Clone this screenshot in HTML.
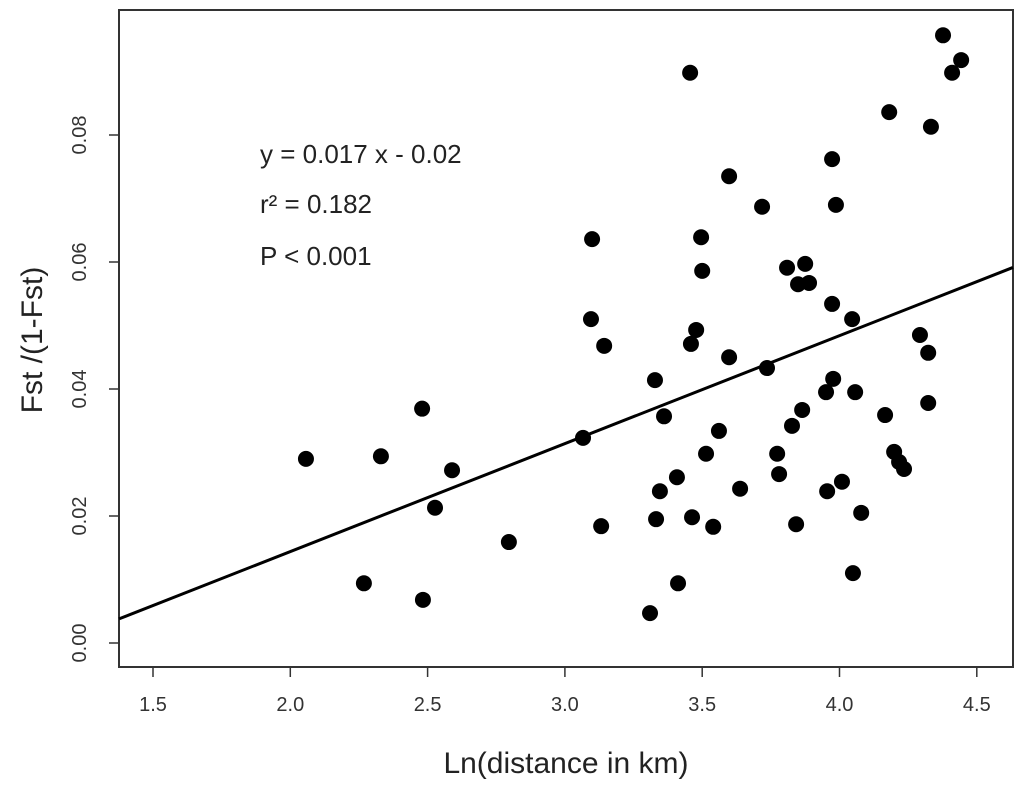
<!DOCTYPE html>
<html><head><meta charset="utf-8"><style>
html,body{margin:0;padding:0;background:#fff;}
svg{display:block;font-family:"Liberation Sans",Arial,sans-serif;}
</style></head><body>
<svg id="chart" width="1024" height="789">
<rect x="119" y="10" width="894" height="657" fill="none" stroke="#333" stroke-width="2"/>
<g id="xaxis"></g>
<g id="yaxis"></g>
<text x="566" y="773" font-size="30" text-anchor="middle" fill="#222">Ln(distance in km)</text>
<text transform="translate(42,340) rotate(-90)" font-size="30" text-anchor="middle" fill="#222">Fst /(1-Fst)</text>
<text x="260" y="163" font-size="26" fill="#222">y = 0.017 x - 0.02</text>
<text x="260" y="213" font-size="26" fill="#222">r² = 0.182</text>
<text x="260" y="265" font-size="26" fill="#222">P &lt; 0.001</text>
<g id="marks"></g>
</svg>
<script>
const xTicks = [1.5, 2.0, 2.5, 3.0, 3.5, 4.0, 4.5];
const yTicks = [0.00, 0.02, 0.04, 0.06, 0.08];
const xVals = [4.377,4.443,4.410,3.456,4.181,4.333,3.973,3.598,3.718,3.987,3.099,3.496,3.500,3.809,3.875,3.849,3.889,3.973,4.046,3.095,3.478,4.293,3.143,3.459,4.323,3.598,3.736,3.328,3.977,3.951,4.057,4.323,3.066,3.361,3.864,4.166,3.827,3.561,3.514,3.773,4.199,4.217,4.235,3.408,3.780,4.009,3.955,3.346,3.638,4.079,3.332,3.463,3.540,3.842,3.132,4.049,3.412,3.310,2.057,2.268,2.330,2.480,2.483,2.527,2.589,2.796];
const yVals = [0.0957,0.0918,0.0898,0.0898,0.0836,0.0813,0.0762,0.0735,0.0687,0.0690,0.0636,0.0639,0.0586,0.0591,0.0597,0.0565,0.0567,0.0534,0.0510,0.0510,0.0493,0.0485,0.0468,0.0471,0.0457,0.0450,0.0433,0.0414,0.0416,0.0395,0.0395,0.0378,0.0323,0.0357,0.0367,0.0359,0.0342,0.0334,0.0298,0.0298,0.0301,0.0285,0.0274,0.0261,0.0266,0.0254,0.0239,0.0239,0.0243,0.0205,0.0195,0.0198,0.0183,0.0187,0.0184,0.0110,0.0094,0.0047,0.0290,0.0094,0.0294,0.0369,0.0068,0.0213,0.0272,0.0159];
const fitSlope = 0.017;
const fitIntercept = -0.0196;

const NS = "http://www.w3.org/2000/svg";
const X0 = 119, X1 = 1013;
function sx(v){ return 153 + (v - 1.5) * 274.6; }
function sy(v){ return 643 - v * 6350; }
function mk(tag, attrs, parent){ const e = document.createElementNS(NS, tag); for (const k in attrs) e.setAttribute(k, attrs[k]); parent.appendChild(e); return e; }

const xa = document.getElementById('xaxis');
xTicks.forEach(t => {
  const x = sx(t);
  const l = mk('line', {x1:x, x2:x, y1:667, y2:677, stroke:'#333', 'stroke-width':1.5}, xa);
  
  
  const tx = mk('text', {x:x, y:711, 'font-size':20, 'text-anchor':'middle', fill:'#333'}, xa);
  tx.textContent = t.toFixed(1);
  
  
});
const ya = document.getElementById('yaxis');
yTicks.forEach(t => {
  const y = sy(t);
  const l = mk('line', {x1:109, x2:119, y1:y, y2:y, stroke:'#333', 'stroke-width':1.5}, ya);
  
  
  const tx = mk('text', {transform:`translate(86,${y}) rotate(-90)`, 'font-size':20, 'text-anchor':'middle', fill:'#333'}, ya);
  tx.textContent = t.toFixed(2);
  
  
});

const marks = document.getElementById('marks');
const xl = 1.5 + (X0 - 153) / 274.6, xr = 1.5 + (X1 - 153) / 274.6;
const fit = mk('line', {x1:X0, y1:sy(fitSlope*xl + fitIntercept), x2:X1, y2:sy(fitSlope*xr + fitIntercept), stroke:'#000', 'stroke-width':3}, marks);


xVals.forEach((v, i) => {
  const c = mk('circle', {cx:sx(v), cy:sy(yVals[i]), r:8, fill:'#000'}, marks);
  
  
});
</script>
</body></html>
